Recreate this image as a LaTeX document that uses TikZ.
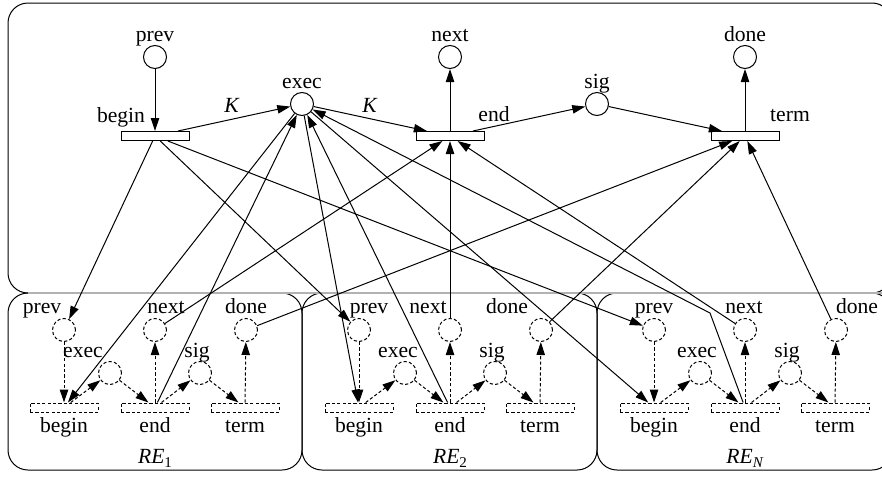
\documentclass[tikz,border=0pt]{standalone}
\usepackage{fontspec}
\setmainfont{Liberation Serif}
\usetikzlibrary{arrows.meta,positioning,calc}
\newcommand{\idx}[1]{\raisebox{-0.45ex}{\fontsize{7.5}{8}\selectfont #1}}

\begin{document}
\begin{tikzpicture}[
        x=0.5pt, y=-0.5pt,
        font=\fontsize{10.8}{12}\selectfont,
        >={Triangle[length=6.5pt,width=4.2pt]},
        line width=0.5pt,
        place/.style={circle,draw,minimum size=11.5pt,inner sep=0pt},
        trans/.style={rectangle,draw,minimum width=34pt,minimum height=4.5pt,inner sep=0pt},
        dsh/.style={dash pattern=on 1.6pt off 1.1pt},
        subplace/.style={place,dsh},
        subtrans/.style={trans,dsh},
        arc/.style={->},
        subarc/.style={->,dsh},
        lbl/.style={inner sep=0pt,anchor=base},
        frame/.style={draw,rounded corners=10pt}
    ]
        \useasboundingbox (0,0) rectangle (882,477);

        % frames
        \draw[frame] (8,3) rectangle (892,293);
        \draw[frame] (8,293) rectangle (302,470);
        \draw[frame] (302,293) rectangle (597,470);
        \draw[frame] (597,293) rectangle (892,470);
        \draw[gray!60,line width=0.6pt] (28,293) -- (892,293);

        % composite net
        \node[place] (prev) at (155,57) {};
        \node[place] (exec) at (302,104) {};
        \node[place] (next) at (450,57) {};
        \node[place] (sig) at (597,104) {};
        \node[place] (done) at (745,57) {};
        \node[trans] (begin) at (155,136) {};
        \node[trans] (end) at (450,136) {};
        \node[trans] (term) at (745,136) {};

        \node[lbl] (prevl) at (155,41) {prev};
        \node[lbl] (nextl) at (450,41) {next};
        \node[lbl] (donel) at (745,41) {done};
        \node[lbl] (execl) at (302,88) {exec};
        \node[lbl] (sigl) at (597,88) {sig};
        \node[lbl] (beginl) at (121,122) {begin};
        \node[lbl] (endl) at (494,121) {end};
        \node[lbl] (terml) at (790,121) {term};
        \node[lbl] (kin) at (232,112) {\textit{K}};
        \node[lbl] (kout) at (370,112) {\textit{K}};

        \draw[arc] (prev) -- (begin);
        \draw[arc] (begin) -- (exec);
        \draw[arc] (exec) -- (end);
        \draw[arc] (end) -- (next);
        \draw[arc] (end) -- (sig);
        \draw[arc] (sig) -- (term);
        \draw[arc] (term) -- (done);

        % element nets
        \foreach \k/\dx/\pl/\nl/\dl/\el/\s in {1/0/42/166/246/83/1, 2/295/369/428/507/398/2, N/590/654/744/857/697/\textit{N}} {
            \node[subplace] (prev\k) at (\dx+64,330) {};
            \node[subplace] (next\k) at (\dx+155,330) {};
            \node[subplace] (done\k) at (\dx+246,330) {};
            \node[subplace] (exec\k) at (\dx+110,373) {};
            \node[subplace] (sig\k) at (\dx+200,373) {};
            \node[subtrans] (begin\k) at (\dx+64,407.5) {};
            \node[subtrans] (end\k) at (\dx+155,407.5) {};
            \node[subtrans] (term\k) at (\dx+245,407.5) {};

            \node[lbl] (prevl\k) at (\pl,313) {prev};
            \node[lbl] (nextl\k) at (\nl,313) {next};
            \node[lbl] (donel\k) at (\dl,313) {done};
            \node[lbl] (execl\k) at (\el,357) {exec};
            \node[lbl] (sigl\k) at (\dx+197,357) {sig};
            \node[lbl] (beginl\k) at (\dx+64,432) {begin};
            \node[lbl] (endl\k) at (\dx+155,432) {end};
            \node[lbl] (terml\k) at (\dx+245,432) {term};
            \node[lbl] (re\k) at (\dx+155,463) {\textit{RE}\idx{\s}};

            \draw[subarc] (prev\k) -- (begin\k);
            \draw[subarc] (begin\k) -- (exec\k);
            \draw[subarc] (exec\k) -- (end\k);
            \draw[subarc] (end\k) -- (next\k);
            \draw[subarc] (end\k) -- (sig\k);
            \draw[subarc] (sig\k) -- (term\k);
            \draw[subarc] (term\k) -- (done\k);

            % links to the composite net
            \draw[arc] (begin) -- (prev\k);
            \draw[arc] (exec) -- (begin\k);
            \draw[arc] (next\k) -- (end);
            \draw[arc] (done\k) -- (term);
        }
        \coordinate (bendN) at (710,313);
        \draw[arc] (end1) -- (exec);
        \draw[arc] (end2) -- (exec);
        \draw[arc] (endN) -- (bendN) -- (exec);
    \end{tikzpicture}
\end{document}
